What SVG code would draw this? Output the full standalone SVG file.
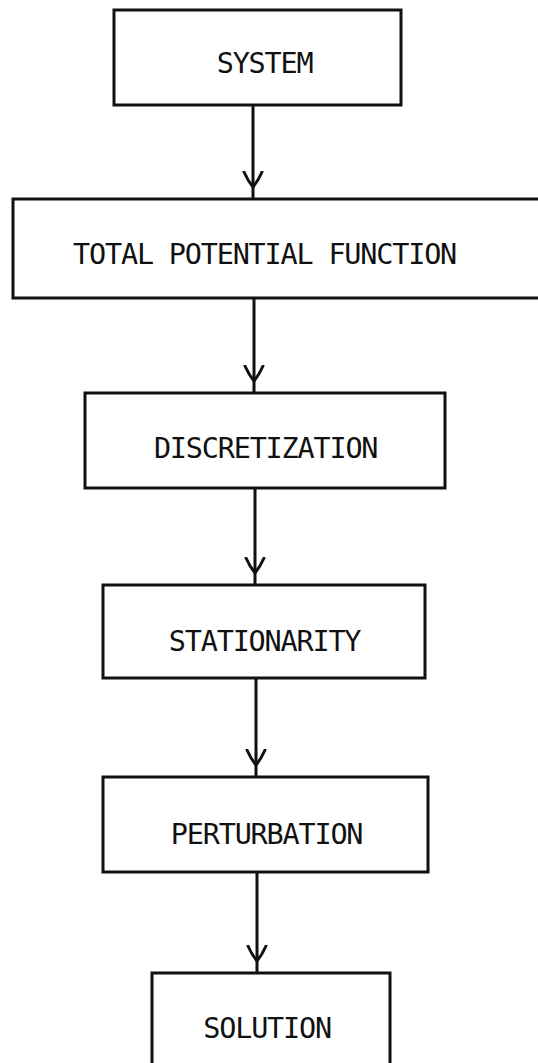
<svg xmlns="http://www.w3.org/2000/svg" width="538" height="1063" viewBox="0 0 538 1063">
  <style>
    .box { fill: #ffffff; stroke: #111111; stroke-width: 3; }
    .lbl { font-family: "DejaVu Sans Mono", "Liberation Mono", monospace; font-size: 28.5px; letter-spacing: -1.2px; fill: #111111; text-anchor: middle; }
    .edge { stroke: #111111; stroke-width: 3; fill: none; }
    .head { stroke: #111111; stroke-width: 3; fill: none; stroke-linecap: round; stroke-linejoin: round; }
  </style>
  <defs>
    <marker id="vhead" markerUnits="userSpaceOnUse" markerWidth="30" markerHeight="24" viewBox="0 0 30 24" refX="28" refY="12" orient="auto">
      <path class="head" d="M 1 3 Q 10 7 16 12 Q 10 17 1 21"/>
    </marker>
  </defs>
  <rect x="0" y="0" width="538" height="1063" fill="#ffffff"/>

  <g id="connectors">
    <line class="edge" x1="253" y1="105" x2="253" y2="199" marker-end="url(#vhead)"/>
    <line class="edge" x1="254" y1="298" x2="254" y2="393" marker-end="url(#vhead)"/>
    <line class="edge" x1="255" y1="488" x2="255" y2="585" marker-end="url(#vhead)"/>
    <line class="edge" x1="256" y1="678" x2="256" y2="777" marker-end="url(#vhead)"/>
    <line class="edge" x1="257" y1="872" x2="257" y2="973" marker-end="url(#vhead)"/>
  </g>

  <g id="system">
    <rect class="box" x="114" y="10" width="287" height="95"/>
    <text class="lbl" x="264.6" y="73">SYSTEM</text>
  </g>
  <g id="total-potential-function">
    <rect class="box" x="13" y="199" width="540" height="99"/>
    <text class="lbl" x="264.6" y="264">TOTAL POTENTIAL FUNCTION</text>
  </g>
  <g id="discretization">
    <rect class="box" x="85" y="393" width="360" height="95"/>
    <text class="lbl" x="265.6" y="458">DISCRETIZATION</text>
  </g>
  <g id="stationarity">
    <rect class="box" x="103" y="585" width="322" height="93"/>
    <text class="lbl" x="264.6" y="651">STATIONARITY</text>
  </g>
  <g id="perturbation">
    <rect class="box" x="103" y="777" width="325" height="95"/>
    <text class="lbl" x="266.6" y="844">PERTURBATION</text>
  </g>
  <g id="solution">
    <rect class="box" x="152" y="973" width="238" height="100"/>
    <text class="lbl" x="267.1" y="1038">SOLUTION</text>
  </g>
</svg>
